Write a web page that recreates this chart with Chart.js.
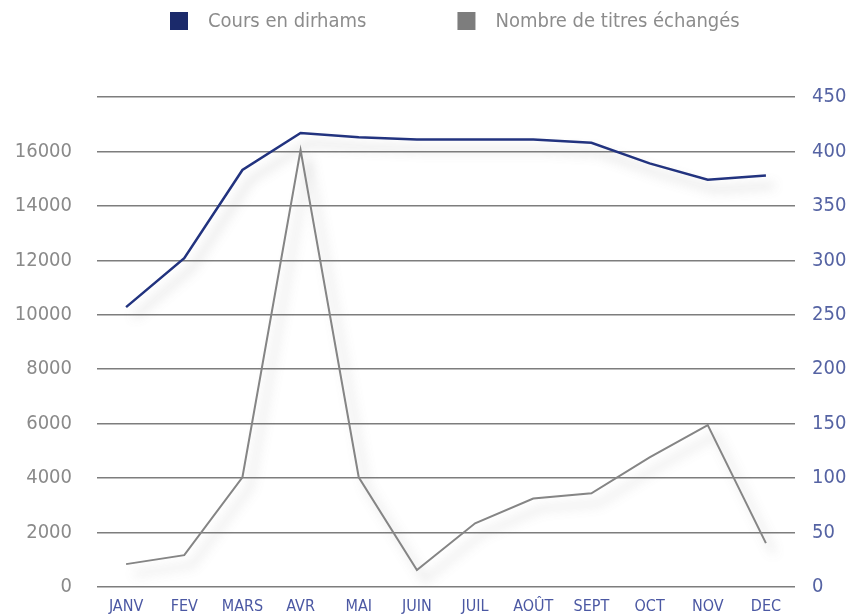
<!DOCTYPE html>
<html>
<head>
<meta charset="utf-8">
<script src="https://cdn.jsdelivr.net/npm/chart.js@4/dist/chart.umd.min.js"></script>
<style>
  html, body { margin: 0; padding: 0; background: #fff; overflow: hidden; }
  canvas { display: block; }
</style>
</head>
<body>
<canvas id="graphique" width="853" height="616"></canvas>
<script>
// Cours et volume mensuels
const mois = ['JANV', 'FEV', 'MARS', 'AVR', 'MAI', 'JUIN', 'JUIL', 'AOÛT', 'SEPT', 'OCT', 'NOV', 'DEC'];
const cours = [257, 302, 383, 417, 413, 411, 411, 411, 408, 389, 374, 378];
const titres = [840, 1170, 4030, 16050, 4030, 620, 2340, 3250, 3440, 4760, 5950, 1610];
const ticksGauche = [0, 2000, 4000, 6000, 8000, 10000, 12000, 14000, 16000, 18000];
const ticksDroite = [0, 50, 100, 150, 200, 250, 300, 350, 400, 450];

const police = "'DejaVu Sans Condensed', 'DejaVu Sans', sans-serif";

// ombre grise sous les courbes
const ombre = {
  id: 'ombre',
  beforeDatasetDraw(chart) {
    const c = chart.ctx;
    c.save();
    c.shadowColor = 'rgba(120,120,120,0.42)';
    c.shadowBlur = 11;
    c.shadowOffsetX = 8;
    c.shadowOffsetY = 10;
  },
  afterDatasetDraw(chart) {
    chart.ctx.restore();
  }
};

// légende en haut, dessinée à la main
const legende = {
  id: 'legende',
  afterDraw(chart) {
    const c = chart.ctx;
    c.save();
    c.font = '20px ' + police;
    c.textBaseline = 'middle';
    let x = 170;
    chart.data.datasets.forEach(ds => {
      c.fillStyle = ds.backgroundColor;
      c.fillRect(x, 12, 18, 18);
      c.fillStyle = '#8c8c8c';
      c.fillText(ds.label, x + 38, 22);
      x += 38 + c.measureText(ds.label).width + 91;
    });
    c.restore();
  }
};

const ctx = document.getElementById('graphique').getContext('2d');
const graphique = new Chart(ctx, {
  type: 'line',
  data: {
    labels: mois,
    datasets: [{
      label: 'Cours en dirhams',
      data: cours,
      yAxisID: 'droite',
      borderColor: '#22337f',
      backgroundColor: '#1b2a6b',
      borderWidth: 2.5,
      pointRadius: 0,
      tension: 0
    }, {
      label: 'Nombre de titres échangés',
      data: titres,
      yAxisID: 'gauche',
      borderColor: '#858585',
      backgroundColor: '#7d7d7d',
      borderWidth: 2,
      pointRadius: 0,
      tension: 0
    }]
  },
  options: {
    responsive: false,
    animation: false,
    layout: { padding: { top: 97 } },
    plugins: {
      tooltip: { enabled: false },
      legend: { display: false }
    },
    scales: {
      x: {
        offset: true,
        grid: { display: false, drawTicks: false },
        border: { display: false },
        ticks: {
          color: '#4b58a3',
          padding: 10,
          maxRotation: 0,
          autoSkip: false,
          font: { family: police, size: 16 }
        },
        afterFit(s) { s.height = 29; }
      },
      gauche: {
        position: 'left',
        min: 0,
        max: 18000,
        afterBuildTicks(s) { s.ticks = ticksGauche.map(v => ({ value: v })); },
        grid: { color: '#7d7d7d', lineWidth: 1.5, drawTicks: false },
        border: { display: false },
        ticks: {
          color: '#8a8a8a',
          padding: 25,
          font: { family: police, size: 20 },
          callback: v => v === 18000 ? '' : v
        },
        afterFit(s) { s.width = 97; s.paddingTop = 12; s.paddingBottom = 12; }
      },
      droite: {
        position: 'right',
        min: 0,
        max: 450,
        afterBuildTicks(s) { s.ticks = ticksDroite.map(v => ({ value: v })); },
        grid: { display: false },
        border: { display: false },
        ticks: {
          color: '#5563a3',
          padding: 9,
          font: { family: police, size: 20 }
        },
        afterFit(s) { s.width = 58; s.paddingTop = 12; s.paddingBottom = 12; }
      }
    }
  },
  plugins: [ombre, legende]
});
</script>
</body>
</html>
